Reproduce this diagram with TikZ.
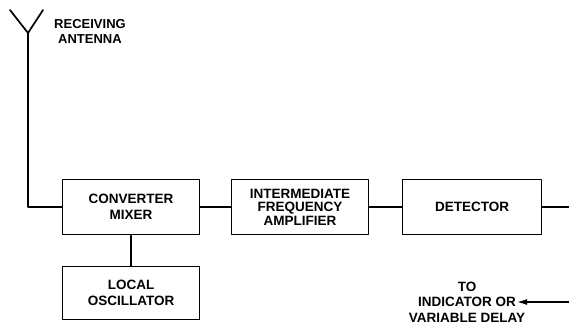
\documentclass[tikz,border=0pt]{standalone}
\usepackage{fontspec}
\setmainfont{Liberation Sans}
\usetikzlibrary{arrows.meta,positioning}

\begin{document}
\begin{tikzpicture}[
            x=1pt,y=-1pt,
            stage/.style={draw,rectangle,line width=1.7pt,minimum width=137,minimum height=55,
              align=center,font=\bfseries\fontsize{13.5}{16}\selectfont},
            tight/.style={font=\bfseries\fontsize{13.5}{13.5}\selectfont},
            lab/.style={align=center,font=\bfseries\fontsize{13.5}{15.5}\selectfont},
            wire/.style={draw,line width=1.7pt},
            every path/.style={line cap=round,line join=round}
          ]
          \useasboundingbox (0,0) rectangle (569,327);
          %receiver chain
          \node[stage] (conv) at (131,207) {CONVERTER\\MIXER};
          \node[right of = conv,stage,tight,node distance=169] (ifamp) {INTERMEDIATE\\FREQUENCY\\AMPLIFIER};
          \node[right of = ifamp,stage,minimum width=139,node distance=172] (det) {DETECTOR};
          \node[below of = conv,stage,minimum height=53,node distance=86] (osc) {LOCAL\\OSCILLATOR};

          %antenna
          \coordinate (antL) at (10,10);
          \coordinate (antR) at (43,10);
          \coordinate (ant) at (28,33);
          \node[lab,font=\bfseries\fontsize{13}{15}\selectfont] (antlab) at (90,31) {RECEIVING\\ANTENNA};

          %labels
          \node[lab] (ind) at (467,302) {TO\\INDICATOR OR\\VARIABLE DELAY};
          \coordinate (indin) at (517,302);
          \coordinate (indsrc) at (569,302);
          \coordinate (detout) at (569,207);

          \path[wire]
          (antL) -- (ant) -- (antR)
          (ant) |- (conv.west)
          (conv) -- (ifamp)
          (ifamp) -- (det)
          (det) -- (detout)
          (conv) -- (osc)
          ;
          \draw[line width=1.4pt,-{Latex[length=10pt,width=6pt]}] (indsrc) -- (indin);

      \end{tikzpicture}
\end{document}
